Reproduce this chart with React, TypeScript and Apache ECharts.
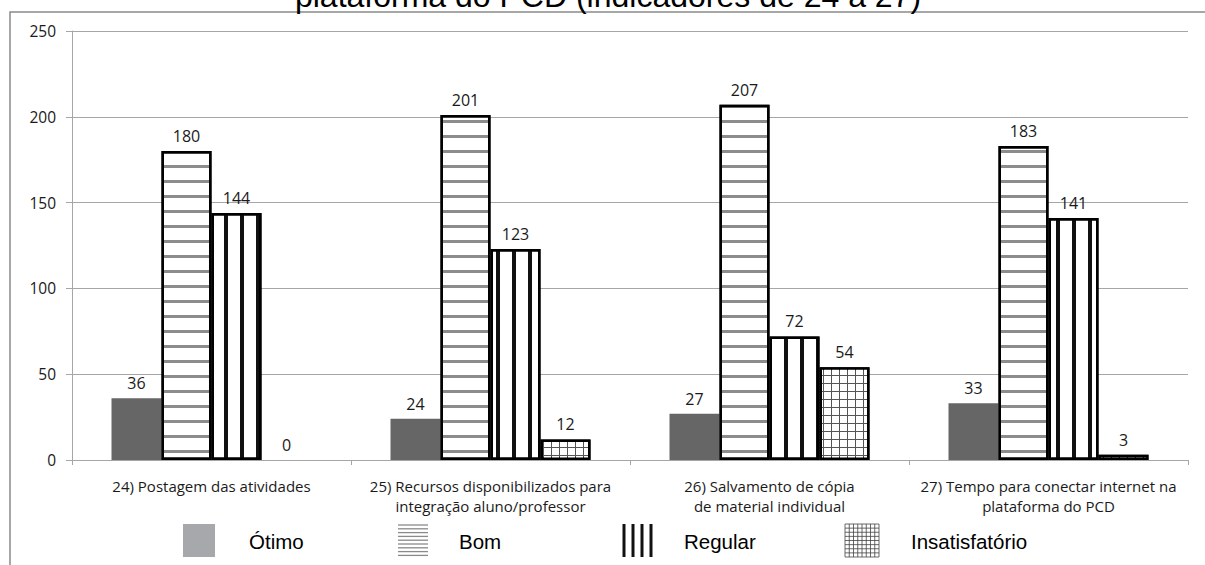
import React, { useEffect, useRef } from "react";
import * as echarts from "echarts";

// Indicators 24–27 and their answer counts per rating
const categories = [
  "24) Postagem das atividades",
  "25) Recursos disponibilizados para\nintegração aluno/professor",
  "26) Salvamento de cópia\nde material individual",
  "27) Tempo para conectar internet na\nplataforma do PCD",
];
const ratingNames = ["Ótimo", "Bom", "Regular", "Insatisfatório"];
const otimo = [36, 24, 27, 33];
const bom = [180, 201, 207, 183];
const regular = [144, 123, 72, 141];
const insatisfatorio = [0, 12, 54, 3];

const titleText = "plataforma do PCD (indicadores de 24 a 27)";
const yMin = 0;
const yMax = 250;
const yStep = 50;

const LABEL_FONT = "'Open Sans', Lato, sans-serif";
const LEGEND_FONT = "'Liberation Sans', Arial, sans-serif";

function legendGraphics(): any[] {
  const els: any[] = [];
  const top = 524;
  const h = 33;
  const mid = top + h / 2 + 1;
  // Ótimo swatch
  els.push({ type: "rect", shape: { x: 183, y: top, width: 32, height: h }, style: { fill: "#a6a8ab" } });
  // Bom: horizontal hatch
  for (let i = 0; i < 9; i++) {
    const y = top + 1 + i * 3.8;
    els.push({ type: "line", shape: { x1: 398, y1: y, x2: 428, y2: y }, style: { stroke: "#8a8a8a", lineWidth: 1.3 } });
  }
  // Regular: thick vertical bars
  [624, 633, 642, 651].forEach((x) => {
    els.push({ type: "line", shape: { x1: x, y1: top, x2: x, y2: top + h }, style: { stroke: "#111", lineWidth: 3 } });
  });
  // Insatisfatório: fine grid
  const gx = 845, gw = 34;
  const n = 8;
  for (let i = 0; i <= n; i++) {
    const x = gx + (gw * i) / n;
    const y = top + (h * i) / n;
    els.push({ type: "line", shape: { x1: x, y1: top, x2: x, y2: top + h }, style: { stroke: "#444", lineWidth: 0.8 } });
    els.push({ type: "line", shape: { x1: gx, y1: y, x2: gx + gw, y2: y }, style: { stroke: "#444", lineWidth: 0.8 } });
  }
  const textX = [249, 459, 684, 911];
  ratingNames.forEach((name, i) => {
    els.push({
      type: "text",
      x: textX[i],
      y: mid,
      style: { text: name, fontFamily: LEGEND_FONT, fontSize: 20.5, fill: "#000", verticalAlign: "middle", align: "left" },
    });
  });
  return els;
}

// A zero-height bar should leave no outline on the axis
function withEmptyZero(values: number[]) {
  return values.map((v) => (v === 0 ? { value: v, itemStyle: { borderWidth: 0 } } : v));
}

export default function App() {
  const ref = useRef<HTMLDivElement>(null);

  useEffect(() => {
    if (!ref.current) return;
    const chart = echarts.init(ref.current, null, { renderer: "svg" });

    const label = {
      show: true,
      position: "top",
      distance: 7,
      fontFamily: LABEL_FONT,
      fontSize: 16,
      color: "#1a1a1a",
    };

    const outlined = { color: "#ffffff", borderColor: "#000", borderWidth: 2.5 };

    const option: any = {
      animation: false,
      backgroundColor: "#fff",
      grid: { left: 72, right: 17, top: 31, bottom: 105, containLabel: false },
      graphic: [
        {
          type: "rect",
          shape: { x: 10, y: 12, width: 1210, height: 570 },
          style: { fill: "none", stroke: "#8a8a8a", lineWidth: 1.5 },
          silent: true,
        },
        {
          type: "text",
          x: 608,
          y: -4,
          style: {
            text: titleText,
            fontFamily: LEGEND_FONT,
            fontSize: 32,
            fill: "#000",
            align: "center",
            verticalAlign: "middle",
          },
        },
        ...legendGraphics(),
      ],
      xAxis: {
        type: "category",
        data: categories,
        axisLine: { lineStyle: { color: "#a6a6a6", width: 1 } },
        axisTick: { show: true, length: 5, lineStyle: { color: "#a6a6a6" } },
        axisLabel: {
          fontFamily: LABEL_FONT,
          fontSize: 15,
          color: "#1a1a1a",
          lineHeight: 20,
          margin: 16,
          interval: 0,
        },
      },
      yAxis: {
        type: "value",
        min: yMin,
        max: yMax,
        interval: yStep,
        axisLine: { show: true, lineStyle: { color: "#a6a6a6", width: 1 } },
        axisTick: { show: true, length: 6, lineStyle: { color: "#a6a6a6" } },
        axisLabel: { fontFamily: LABEL_FONT, fontSize: 15.5, color: "#1a1a1a", margin: 16 },
        splitLine: { lineStyle: { color: "#a6a6a6", width: 1 } },
      },
      series: [
        {
          name: ratingNames[0],
          type: "bar",
          data: otimo,
          barWidth: 50,
          barGap: "0%",
          itemStyle: { color: "#666666" },
          label,
        },
        {
          name: ratingNames[1],
          type: "bar",
          data: withEmptyZero(bom),
          barWidth: 50,
          barGap: "0%",
          itemStyle: {
            ...outlined,
            decal: {
              symbol: "rect",
              symbolSize: 1,
              dashArrayX: [1, 0],
              dashArrayY: [3, 12],
              color: "#8c8c8c",
            },
          },
          label,
        },
        {
          name: ratingNames[2],
          type: "bar",
          data: withEmptyZero(regular),
          barWidth: 50,
          barGap: "0%",
          itemStyle: {
            ...outlined,
            decal: {
              symbol: "rect",
              symbolSize: 1,
              dashArrayX: [4, 12],
              dashArrayY: [1, 0],
              color: "#111",
            },
          },
          label,
        },
        {
          name: ratingNames[3],
          type: "bar",
          data: withEmptyZero(insatisfatorio),
          barWidth: 50,
          barGap: "0%",
          itemStyle: {
            ...outlined,
            color: "#555",
            decal: {
              symbol: "rect",
              symbolSize: 1,
              dashArrayX: [7, 1],
              dashArrayY: [7, 1],
              color: "#ffffff",
            },
          },
          label,
        },
      ],
    };

    chart.setOption(option);
    return () => chart.dispose();
  }, []);

  return (
    <div
      ref={ref}
      style={{ position: "fixed", left: 0, top: 0, width: 1205, height: 565, background: "#fff" }}
    />
  );
}
